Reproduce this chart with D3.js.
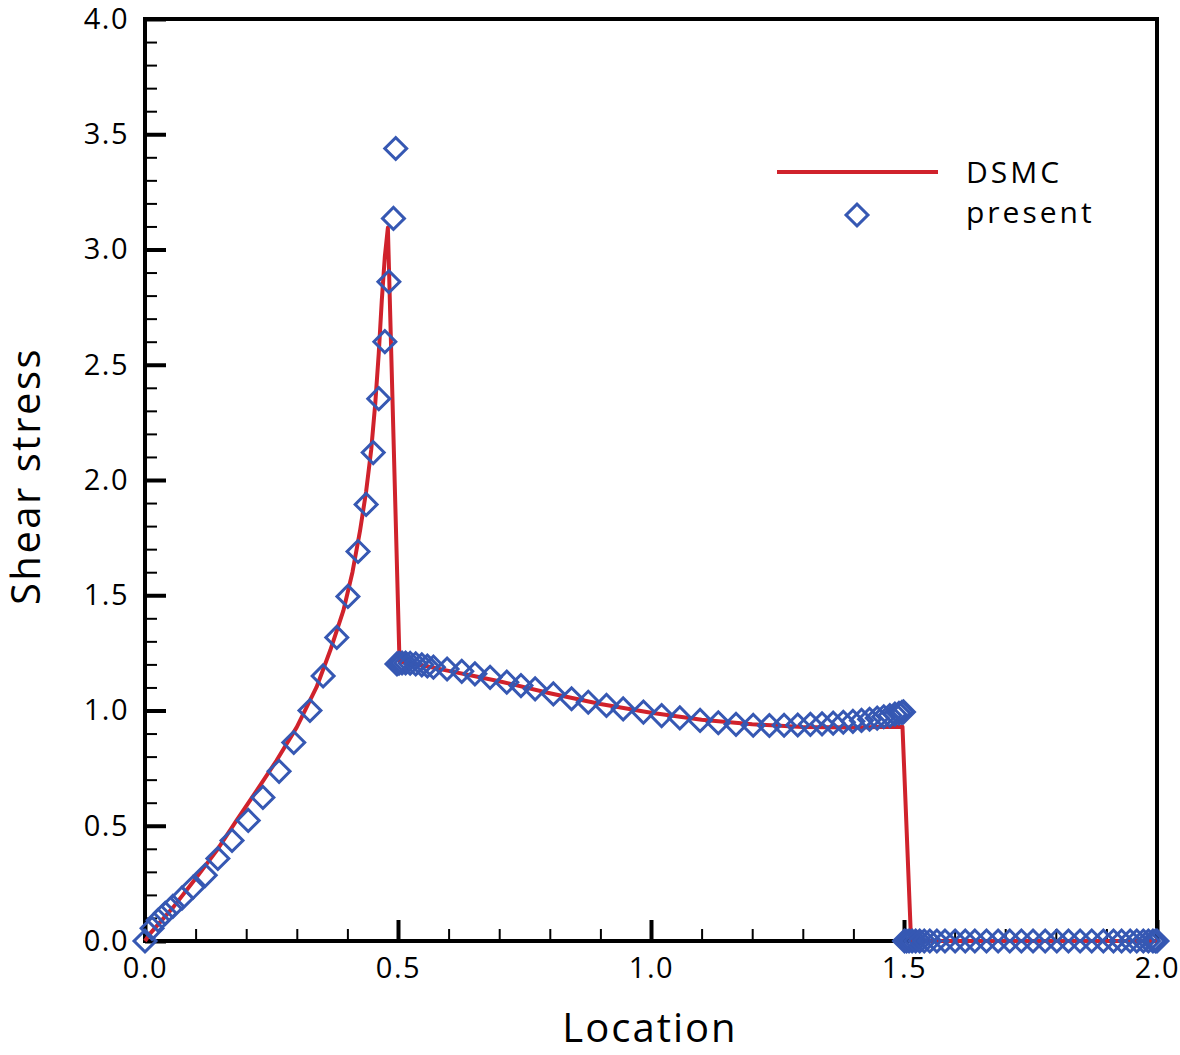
<!DOCTYPE html>
<html>
<head>
<meta charset="utf-8">
<script src="https://cdn.jsdelivr.net/npm/d3@7"></script>
<style>
    body { margin: 0; background: #fff; }
    text { font-family: "Open Sans", sans-serif; fill: #000; }
</style>
</head>
<body>
<div id="chart"></div>
<script>
// DSMC reference curve
var dsmcX = [0, 0.01, 0.056, 0.102, 0.142, 0.181, 0.221, 0.26, 0.3, 0.339, 0.366, 0.392, 0.41, 0.425, 0.437, 0.447, 0.455, 0.462, 0.468, 0.474, 0.48,
             0.503, 0.55, 0.6, 0.65, 0.7, 0.8, 0.9, 1.0, 1.1, 1.2, 1.3, 1.4, 1.45, 1.497,
             1.514, 1.6, 1.8, 2.0];
var dsmcY = [0, 0.032, 0.147, 0.277, 0.393, 0.523, 0.653, 0.783, 0.928, 1.101, 1.26, 1.433, 1.6, 1.78, 1.95, 2.13, 2.33, 2.55, 2.78, 2.97, 3.095,
             1.212, 1.195, 1.172, 1.15, 1.127, 1.075, 1.028, 0.99, 0.96, 0.94, 0.928, 0.926, 0.928, 0.93,
             0, 0, 0, 0];

// present method (diamonds)
var presentX = [0, 0.014, 0.026, 0.04, 0.055, 0.073, 0.095, 0.119, 0.144, 0.172, 0.204, 0.233, 0.265, 0.294, 0.326, 0.352, 0.379, 0.401, 0.421, 0.437, 0.451, 0.462, 0.474, 0.482, 0.491, 0.4955,
                0.498, 0.502, 0.508, 0.515, 0.524, 0.535, 0.547, 0.558, 0.57, 0.597, 0.626, 0.652, 0.682, 0.715, 0.743, 0.771, 0.807, 0.843, 0.876, 0.912, 0.945, 0.985, 1.021, 1.057, 1.097, 1.133,
                1.168, 1.202, 1.234, 1.263, 1.29, 1.315, 1.338, 1.36, 1.38, 1.399, 1.416, 1.432, 1.447, 1.46, 1.472, 1.482, 1.49, 1.496, 1.499,
                1.501, 1.505, 1.51, 1.516, 1.523, 1.531, 1.54, 1.551, 1.565, 1.581, 1.601, 1.621, 1.64, 1.663, 1.686, 1.709, 1.732, 1.755, 1.779, 1.802, 1.825, 1.848, 1.871, 1.894, 1.914, 1.93, 1.947, 1.96, 1.973, 1.983, 1.992, 1.997, 2.0];
var presentY = [0, 0.055, 0.09, 0.12, 0.15, 0.186, 0.233, 0.285, 0.358, 0.436, 0.523, 0.623, 0.736, 0.861, 1.0, 1.15, 1.317, 1.495, 1.69, 1.894, 2.119, 2.353, 2.6, 2.86, 3.135, 3.438,
                1.202, 1.205, 1.206, 1.206, 1.205, 1.202, 1.198, 1.193, 1.188, 1.18, 1.17, 1.159, 1.144, 1.123, 1.108, 1.094, 1.072, 1.051, 1.036, 1.022, 1.007, 0.993, 0.978, 0.968, 0.957, 0.947,
                0.94, 0.936, 0.935, 0.936, 0.937, 0.94, 0.942, 0.945, 0.949, 0.953, 0.957, 0.962, 0.967, 0.973, 0.978, 0.984, 0.988, 0.992, 0.994,
                0, 0, 0, 0, 0, 0, 0, 0, 0, 0, 0, 0, 0, 0, 0, 0, 0, 0, 0, 0, 0, 0, 0, 0, 0, 0, 0, 0, 0, 0, 0, 0, 0];

var xMajor = [0, 0.5, 1.0, 1.5, 2.0];
var yMajor = [0, 0.5, 1.0, 1.5, 2.0, 2.5, 3.0, 3.5, 4.0];
var legendNames = ["DSMC", "present"];

var red = "#d0222c";
var blue = "#3658b3";

var svg = d3.select("#chart")
        .append("svg")
        .attr("width", 1180)
        .attr("height", 1055);

var x = d3.scaleLinear().domain([0, 2]).range([145, 1157]);
var y = d3.scaleLinear().domain([0, 4]).range([941, 19]);

var xMinor = d3.range(0, 2.0001, 0.1).filter(v => Math.abs(v * 2 - Math.round(v * 2)) > 1e-6);
var yMinor = d3.range(0, 4.0001, 0.1).filter(v => Math.abs(v * 2 - Math.round(v * 2)) > 1e-6);

// minor ticks (inward)
svg.append("g")
        .attr("transform", "translate(0,941)")
        .call(d3.axisBottom(x).tickValues(xMinor).tickSize(-12).tickFormat(""))
        .call(g => g.select(".domain").remove())
        .selectAll("line").attr("stroke-width", 2);
svg.append("g")
        .attr("transform", "translate(145,0)")
        .call(d3.axisLeft(y).tickValues(yMinor).tickSize(-12).tickFormat(""))
        .call(g => g.select(".domain").remove())
        .selectAll("line").attr("stroke-width", 2);

// major ticks + labels
var xAxis = svg.append("g")
        .attr("transform", "translate(0,941)")
        .call(d3.axisBottom(x).tickValues(xMajor).tickSize(-21).tickPadding(16).tickFormat(d3.format(".1f")));
xAxis.select(".domain").remove();
xAxis.selectAll("line").attr("stroke-width", 4);
xAxis.selectAll("text")
        .style("font-size", "29px")
        .style("letter-spacing", "1.5px");

var yAxis = svg.append("g")
        .attr("transform", "translate(145,0)")
        .call(d3.axisLeft(y).tickValues(yMajor).tickSize(-21).tickPadding(16).tickFormat(d3.format(".1f")));
yAxis.select(".domain").remove();
yAxis.selectAll("line").attr("stroke-width", 4);
yAxis.selectAll("text")
        .style("font-size", "29px")
        .style("letter-spacing", "1.5px");

// frame
svg.append("rect")
        .attr("x", x(0))
        .attr("y", y(4))
        .attr("width", x(2) - x(0))
        .attr("height", y(0) - y(4))
        .attr("fill", "none")
        .attr("stroke", "#000")
        .attr("stroke-width", 4);

// DSMC line
var line = d3.line()
        .x((d, i) => x(dsmcX[i]))
        .y((d, i) => y(dsmcY[i]));
svg.append("path")
        .datum(dsmcX)
        .attr("d", line)
        .attr("fill", "none")
        .attr("stroke", red)
        .attr("stroke-width", 4)
        .attr("stroke-linejoin", "round");

// diamonds
var diamond = d3.symbol().type(d3.symbolSquare).size(240);
svg.append("g")
        .selectAll("path")
        .data(presentX)
        .enter()
        .append("path")
        .attr("d", diamond)
        .attr("transform", (d, i) => "translate(" + x(d) + "," + y(presentY[i]) + ") rotate(45)")
        .attr("fill", "none")
        .attr("stroke", blue)
        .attr("stroke-width", 3);

// axis titles
svg.append("text")
        .attr("x", 650)
        .attr("y", 1042)
        .attr("text-anchor", "middle")
        .style("font-size", "40px")
        .style("letter-spacing", "2px")
        .text("Location");

svg.append("text")
        .attr("transform", "translate(40,476) rotate(-90)")
        .attr("text-anchor", "middle")
        .style("font-size", "40px")
        .style("letter-spacing", "2.5px")
        .text("Shear stress");

// legend
var legend = svg.append("g");
legend.append("line")
        .attr("x1", 777).attr("x2", 938)
        .attr("y1", 172).attr("y2", 172)
        .attr("stroke", red)
        .attr("stroke-width", 4);
legend.append("path")
        .attr("d", diamond)
        .attr("transform", "translate(857,215) rotate(45)")
        .attr("fill", "none")
        .attr("stroke", blue)
        .attr("stroke-width", 3);
legend.selectAll("text")
        .data(legendNames)
        .enter()
        .append("text")
        .attr("x", 966)
        .attr("y", (d, i) => 183 + i * 40)
        .style("font-size", "30px")
        .style("letter-spacing", "3px")
        .text(d => d);
</script>
</body>
</html>
